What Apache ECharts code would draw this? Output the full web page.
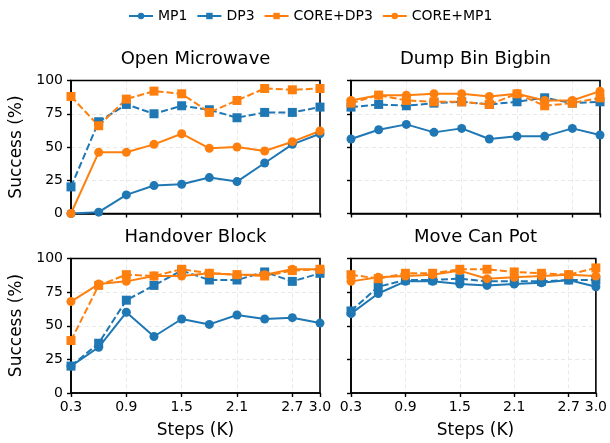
<!DOCTYPE html>
<html><head><meta charset="utf-8">
<script src="https://cdn.jsdelivr.net/npm/echarts@6/dist/echarts.min.js"></script>
<style>html,body{margin:0;padding:0;background:#fff}#c{width:610px;height:443px}</style>
</head><body><div id="c"></div>
<script>
const steps = [0.3,0.6,0.9,1.2,1.5,1.8,2.1,2.4,2.7,3.0];
const methods = ['MP1','DP3','CORE+DP3','CORE+MP1'];
const tasks = ['Open Microwave','Dump Bin Bigbin','Handover Block','Move Can Pot'];
const yTicks = [0,25,50,75,100];

// Open Microwave
const om_MP1     = [0, 1, 14, 21, 22, 27, 24, 38, 52, 60];
const om_DP3     = [20, 69, 82, 75, 81, 78, 72, 76, 76, 80];
const om_COREDP3 = [88, 66, 86, 92, 90, 76, 85, 94, 93, 94];
const om_COREMP1 = [0, 46, 46, 52, 60, 49, 50, 47, 54, 62];
// Dump Bin Bigbin
const db_MP1     = [56, 63, 67, 61, 64, 56, 58, 58, 64, 59];
const db_DP3     = [80, 82, 81, 83, 84, 82, 84, 87, 83, 84];
const db_COREDP3 = [83, 89, 85, 84, 84, 82, 90, 81, 83, 87];
const db_COREMP1 = [85, 89, 89, 90, 90, 88, 90, 85, 85, 92];
// Handover Block
const hb_MP1     = [20, 34, 60, 42, 55, 51, 58, 55, 56, 52];
const hb_DP3     = [20, 37, 69, 80, 91, 84, 84, 90, 83, 89];
const hb_COREDP3 = [39, 80, 88, 87, 92, 89, 88, 87, 91, 92];
const hb_COREMP1 = [68, 81, 83, 87, 87, 89, 88, 88, 92, 92];
// Move Can Pot
const mc_MP1     = [59, 74, 83, 83, 81, 80, 81, 82, 84, 79];
const mc_DP3     = [61, 79, 84, 84, 85, 83, 83, 83, 84, 84];
const mc_COREDP3 = [88, 85, 89, 89, 92, 92, 90, 89, 88, 93];
const mc_COREMP1 = [83, 86, 87, 88, 91, 85, 86, 87, 88, 87];

const panelData = [
  [om_MP1, om_DP3, om_COREDP3, om_COREMP1],
  [db_MP1, db_DP3, db_COREDP3, db_COREMP1],
  [hb_MP1, hb_DP3, hb_COREDP3, hb_COREMP1],
  [mc_MP1, mc_DP3, mc_COREDP3, mc_COREMP1]
];

const BLUE = '#1f77b4', ORANGE = '#ff7f0e';
const styles = [
  {color: BLUE, symbol: 'circle', dash: 'solid'},
  {color: BLUE, symbol: 'rect', dash: [7,3]},
  {color: ORANGE, symbol: 'rect', dash: [7,3]},
  {color: ORANGE, symbol: 'circle', dash: 'solid'}
];
const FONT = 'DejaVu Sans';
const grids = [
  {left: 71, width: 249, top: 80.5, height: 133},
  {left: 351, width: 249, top: 80.5, height: 133},
  {left: 71, width: 249, top: 258.5, height: 134.5},
  {left: 351, width: 249, top: 258.5, height: 134.5}
];
const splitStyle = {show: true, showMinLine: false, showMaxLine: false,
  lineStyle: {color: '#e3e3e3', type: [4, 3], width: 0.8}};

const option = {
  animation: false,
  backgroundColor: '#fff',
  textStyle: {fontFamily: FONT},
  legend: {
    top: 4, left: 123,
    itemWidth: 24, itemHeight: 8, itemGap: 9,
    textStyle: {fontFamily: FONT, fontSize: 14, color: '#000'},
    lineStyle: {type: 'solid', width: 2},
    data: methods
  },
  grid: grids.map(g => Object.assign({show: true, borderColor: '#000', borderWidth: 1.6, backgroundColor: 'transparent', z: 3}, g)),
  xAxis: grids.map((g, i) => ({
    type: 'value', gridIndex: i, min: 0.3, max: 3.0, interval: 0.6,
    axisLine: {show: true, onZero: false, lineStyle: {color: '#000', width: 1.6}},
    axisTick: {show: true, length: 4, lineStyle: {color: '#000', width: 1.4}},
    axisLabel: {show: i >= 2, fontSize: 14, color: '#000', fontFamily: FONT, margin: 7,
      formatter: v => Number(v).toFixed(1)},
    splitLine: splitStyle
  })),
  yAxis: grids.map((g, i) => ({
    type: 'value', gridIndex: i, min: yTicks[0], max: yTicks[yTicks.length - 1], interval: 25,
    axisLine: {show: true, lineStyle: {color: '#000', width: 1.6}},
    axisTick: {show: true, length: 4, lineStyle: {color: '#000', width: 1.4}},
    axisLabel: {show: i % 2 === 0, fontSize: 14, color: '#000', fontFamily: FONT, margin: 8},
    splitLine: splitStyle
  })),
  series: [],
  graphic: []
};

panelData.forEach((arrs, p) => {
  arrs.forEach((vals, m) => {
    const st = styles[m];
    option.series.push({
      name: methods[m], type: 'line', xAxisIndex: p, yAxisIndex: p,
      data: steps.map((s, j) => [s, vals[j]]),
      symbol: st.symbol, symbolSize: 9,
      showAllSymbol: true, clip: true,
      lineStyle: {color: st.color, width: 2, type: st.dash},
      itemStyle: {color: st.color, borderColor: st.color, borderWidth: 0}
    });
  });
  const g = grids[p];
  option.graphic.push({
    type: 'text', x: g.left + g.width / 2, y: g.top - 21,
    style: {text: tasks[p], font: '18px "DejaVu Sans"', fill: '#000', textAlign: 'center', textVerticalAlign: 'middle'}
  });
});

option.graphic.push(
  {type: 'text', x: 195.5, y: 431, style: {text: 'Steps (K)', font: '17px "DejaVu Sans"', fill: '#000', textAlign: 'center', textVerticalAlign: 'middle'}},
  {type: 'text', x: 475.5, y: 431, style: {text: 'Steps (K)', font: '17px "DejaVu Sans"', fill: '#000', textAlign: 'center', textVerticalAlign: 'middle'}},
  {type: 'text', x: 17, y: 147, rotation: Math.PI / 2, style: {text: 'Success (%)', font: '17px "DejaVu Sans"', fill: '#000', textAlign: 'center', textVerticalAlign: 'middle'}},
  {type: 'text', x: 17, y: 325.5, rotation: Math.PI / 2, style: {text: 'Success (%)', font: '17px "DejaVu Sans"', fill: '#000', textAlign: 'center', textVerticalAlign: 'middle'}}
);

const chart = echarts.init(document.getElementById('c'), null, {renderer: 'canvas'});
chart.setOption(option);
</script></body></html>
